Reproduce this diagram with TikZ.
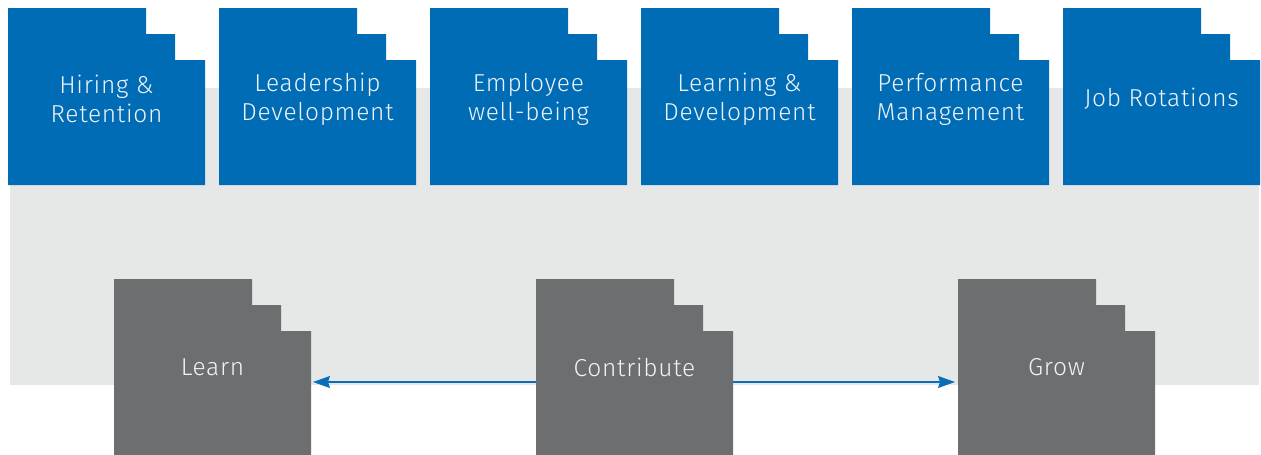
\documentclass[tikz,border=0pt]{standalone}
\usepackage{fontspec}
\setmainfont{Fira Sans}[UprightFont=* Light, LetterSpace=3]
\usetikzlibrary{arrows.meta}
\definecolor{bluebox}{HTML}{006CB5}
\definecolor{graybox}{HTML}{6D6E70}
\definecolor{bgband}{HTML}{E6E7E7}
\definecolor{arrowblue}{HTML}{0A6FB8}
\definecolor{txt}{HTML}{EEF3F8}
\tikzset{
  frame/.style={minimum width=197pt, minimum height=177pt, inner sep=0pt, outer sep=0pt, align=center,
    text=txt, font=\fontsize{24.5}{29}\selectfont},
  flow/.style={draw=arrowblue, line width=1.3pt, -{Stealth[length=17pt,width=12pt,inset=2pt]}},
}
\begin{document}
\begin{tikzpicture}[x=1pt,y=-1pt]
\useasboundingbox (0,0) rectangle (1261,455);
\fill[bgband] (10,88) rectangle (1259,385);
% blue boxes
\foreach \i/\lab/\txt in {0/hiring/{Hiring \&\\Retention},1/leader/{Leadership\\Development},2/wellbeing/{Employee\\well-being},3/learndev/{Learning \&\\Development},4/perf/{Performance\\Management},5/jobrot/{Job Rotations}}{
  \path ({8+211*\i},8) coordinate (tl);
  \fill[bluebox] (tl) -- ++(138,0) -- ++(0,26) -- ++(29,0) -- ++(0,26) -- ++(30,0) -- ++(0,125) -- ++(-197,0) -- cycle;
  \node[frame, anchor=north west] (\lab) at ([yshift=-2.5pt]tl) {\txt};
}
% gray boxes
\foreach \x/\lab/\txt in {114/learn/Learn,536/contribute/Contribute,958/grow/Grow}{
  \path (\x,279) coordinate (tl);
  \fill[graybox] (tl) -- ++(138,0) -- ++(0,26) -- ++(29,0) -- ++(0,26) -- ++(30,0) -- ++(0,124) -- ++(-197,0) -- cycle;
  \node[frame, minimum height=176pt, anchor=north west] (\lab) at (tl) {\txt};
}
\draw[flow] ([yshift=-15pt]contribute.west) -- ([yshift=-15pt,xshift=2pt]learn.east);
\draw[flow] ([yshift=-15pt]contribute.east) -- ([yshift=-15pt,xshift=-3pt]grow.west);
\end{tikzpicture}
\end{document}
